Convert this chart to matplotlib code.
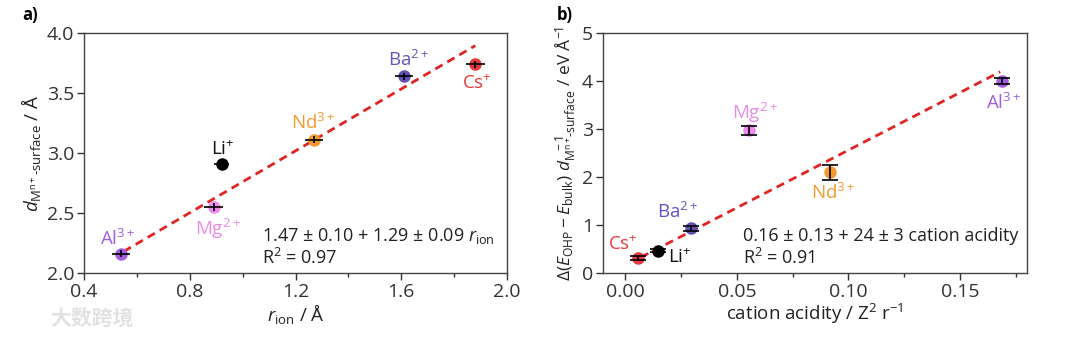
import matplotlib
matplotlib.use("Agg")
import matplotlib.pyplot as plt
from matplotlib.ticker import MultipleLocator

plt.rcParams['font.family'] = ['Open Sans', 'DejaVu Sans']
plt.rcParams['mathtext.fontset'] = 'custom'
plt.rcParams['mathtext.rm'] = 'Open Sans'
plt.rcParams['mathtext.it'] = 'Open Sans:italic'
plt.rcParams['mathtext.bf'] = 'Open Sans:bold'

# ---- data ----
ions = ['Al$^{3+}$', 'Mg$^{2+}$', 'Li$^{+}$', 'Nd$^{3+}$', 'Ba$^{2+}$', 'Cs$^{+}$']
colors = ['#A35EE0', '#EE8CEE', '#000000', '#F29A2E', '#6450B0', '#E53A3A']
label_colors = ['#A35EE0', '#E98AE8', '#111111', '#F29A2E', '#6A55B8', '#E53A3A']

# panel a
r_ion = [0.54, 0.89, 0.92, 1.27, 1.61, 1.88]
d_surf = [2.16, 2.55, 2.91, 3.11, 3.64, 3.74]
r_err = [0.035, 0.035, 0.03, 0.035, 0.035, 0.035]
d_err = [0.03, 0.03, 0.02, 0.03, 0.03, 0.03]
fit_a = (1.47, 1.29)
fit_a_range = [0.55, 1.88]
lab_a_x = [0.526, 0.907, 0.926, 1.266, 1.626, 1.886]
lab_a_y = [2.28, 2.37, 3.03, 3.25, 3.775, 3.58]

# panel b
acidity = [0.169, 0.0553, 0.0145, 0.0917, 0.0293, 0.0058]
dE = [4.00, 2.97, 0.46, 2.10, 0.93, 0.31]
dE_err = [0.06, 0.09, 0.03, 0.16, 0.05, 0.04]
fit_b = (0.16, 24.0)
fit_b_range = [0.007, 0.168]
lab_b_x = [0.1694, 0.0582, 0.0246, 0.093, 0.0236, -0.001]
lab_b_y = [3.55, 3.34, 0.31, 1.67, 1.28, 0.60]

fig = plt.figure(figsize=(10.8, 3.38), dpi=100)
axa = fig.add_axes([0.0778, 0.1923, 0.3917, 0.710])
axb = fig.add_axes([0.5583, 0.1923, 0.3926, 0.710])

tick_col = '#333333'
FS = 13.5
FA = 13
for ax in (axa, axb):
    for s in ax.spines.values():
        s.set_linewidth(1.0)
        s.set_color('#444444')
    ax.tick_params(axis='both', which='major', direction='out', length=5, width=1,
                   labelsize=14, colors=tick_col, top=False, right=False, pad=2)
    ax.tick_params(axis='both', which='minor', direction='out', length=3, width=1,
                   colors=tick_col, top=False, right=False)

# ---- panel a ----
fx = fit_a_range
axa.plot(fx, [fit_a[0] + fit_a[1] * v for v in fx], ls=(0, (3, 2)), color='#E02424', lw=2, zorder=2)
for i in range(len(ions)):
    axa.plot(r_ion[i], d_surf[i], 'o', ms=8, color=colors[i], mec=colors[i], zorder=3)
    axa.errorbar(r_ion[i], d_surf[i], xerr=r_err[i], yerr=d_err[i], fmt='none',
                 ecolor='black', elinewidth=1.2, capsize=0, zorder=4)
    axa.text(lab_a_x[i], lab_a_y[i], ions[i], color=label_colors[i], fontsize=FS,
             ha='center', va='center')
axa.set_xlim(0.4, 2.0)
axa.set_ylim(2.0, 4.0)
axa.xaxis.set_major_locator(MultipleLocator(0.4))
axa.xaxis.set_minor_locator(MultipleLocator(0.2))
axa.yaxis.set_major_locator(MultipleLocator(0.5))
axa.set_xticklabels(['%.1f' % t for t in axa.get_xticks()])
axa.set_yticklabels(['%.1f' % t for t in axa.get_yticks()])
axa.set_xlim(0.4, 2.0)
axa.set_ylim(2.0, 4.0)
axa.set_xlabel(r'$\mathit{r}_{\mathrm{ion}}$ / Å', fontsize=FS, color='#222222', labelpad=1)
axa.set_ylabel(r'$\mathit{d}_{\mathrm{M^{n+}\text{-surface}}}$ / Å', fontsize=FS,
               color='#222222', labelpad=3)
axa.text(1.073, 2.31, r'1.47 ± 0.10 + 1.29 ± 0.09 $\mathit{r}_{\mathrm{ion}}$', fontsize=FA,
         color='#222222', ha='left', va='center')
axa.text(1.073, 2.125, r'R$^{2}$ = 0.97', fontsize=FA, color='#222222', ha='left', va='center')

# ---- panel b ----
fx = fit_b_range
axb.plot(fx, [fit_b[0] + fit_b[1] * v for v in fx], ls=(0, (3, 2)), color='#E02424', lw=2, zorder=2)
for i in range(len(ions)):
    axb.plot(acidity[i], dE[i], 'o', ms=8, color=colors[i], mec=colors[i], zorder=3)
    axb.errorbar(acidity[i], dE[i], yerr=dE_err[i], fmt='none', ecolor='black',
                 elinewidth=1.2, capsize=6, capthick=1.2, zorder=4)
    axb.text(lab_b_x[i], lab_b_y[i], ions[i], color=label_colors[i], fontsize=FS,
             ha='center', va='center')
axb.set_xlim(-0.01, 0.18)
axb.set_ylim(0, 5)
axb.xaxis.set_major_locator(MultipleLocator(0.05))
axb.xaxis.set_minor_locator(MultipleLocator(0.025))
axb.yaxis.set_major_locator(MultipleLocator(1))
axb.set_xticklabels(['%.2f' % t for t in axb.get_xticks()])
axb.set_xlim(-0.01, 0.18)
axb.set_ylim(0, 5)
axb.set_xlabel(r'cation acidity / Z$^{2}$ r$^{-1}$', fontsize=FS, color='#222222', labelpad=1)
axb.set_ylabel(r'$\Delta(\mathit{E}_{\mathrm{OHP}} - \mathit{E}_{\mathrm{bulk}})\ \mathit{d}_{\mathrm{M^{n+}\text{-surface}}}^{\ \ -1}$ / eV Å$^{-1}$',
               fontsize=12.5, color='#222222', labelpad=2)
axb.text(0.0526, 0.77, '0.16 ± 0.13 + 24 ± 3 cation acidity', fontsize=FA,
         color='#222222', ha='left', va='center')
axb.text(0.0526, 0.31, r'R$^{2}$ = 0.91', fontsize=FA, color='#222222', ha='left', va='center')

fig.text(22 / 1080, 1 - 15 / 338, 'a)', fontsize=12, fontweight='bold', ha='left', va='center')
fig.text(557 / 1080, 1 - 15 / 338, 'b)', fontsize=12, fontweight='bold', ha='left', va='center')
fig.text(50 / 1080, 1 - 318 / 338, '大数跨境', fontsize=15, color='#E2E2E2',
         family=['Noto Sans CJK SC', 'DejaVu Sans'], ha='left', va='center', fontweight='bold')

fig.savefig('out.png', dpi=100)
